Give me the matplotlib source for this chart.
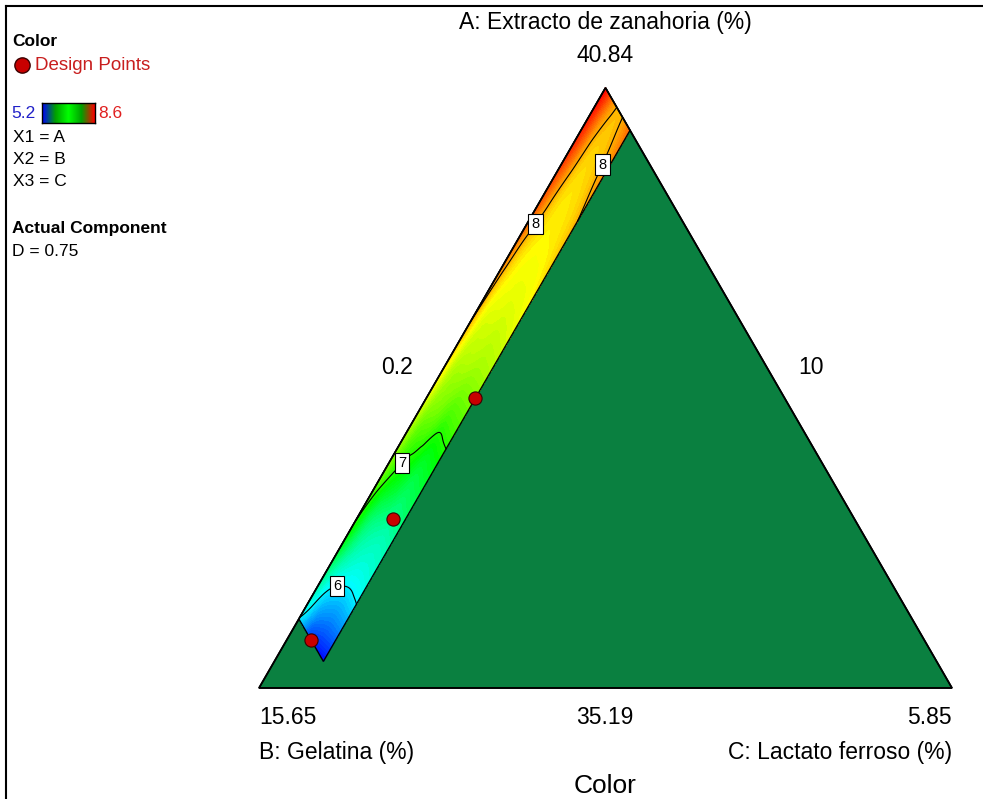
import numpy as np
import matplotlib
matplotlib.use("Agg")
import matplotlib.pyplot as plt
import matplotlib.tri as mtri
from matplotlib.colors import LinearSegmentedColormap
from matplotlib.lines import Line2D
from matplotlib.patches import Polygon

plt.rcParams['font.family'] = ['Liberation Sans', 'DejaVu Sans']

# component ranges (actual units), D fixed at 0.75
a_lo, a_hi = 35.19, 40.84
b_lo, b_hi = 10.0, 15.65
c_lo, c_hi = 0.2, 5.85
rng = 5.65

# feasible region limits
b_max = 15.0
c_max = 0.6

# response: rows = B level, cols = C level
B_rows = [15.0, 14.5, 14.0, 13.5, 13.0, 12.5, 12.0, 11.5, 11.0, 10.5, 10.0]
C_cols = [0.2, 0.28, 0.36, 0.44, 0.52, 0.6]
Z = np.array([
    [5.98, 5.70, 5.40, 5.30, 5.25, 5.20],
    [6.55, 6.21, 6.04, 5.95, 5.93, 5.95],
    [7.05, 6.63, 6.41, 6.31, 6.27, 6.30],
    [7.33, 7.03, 6.85, 6.67, 6.62, 6.65],
    [7.60, 7.30, 7.20, 7.02, 6.98, 7.00],
    [7.88, 7.52, 7.45, 7.38, 7.35, 7.35],
    [8.07, 7.70, 7.63, 7.58, 7.58, 7.62],
    [8.21, 7.87, 7.74, 7.71, 7.72, 7.82],
    [8.34, 8.03, 7.83, 7.80, 7.84, 7.97],
    [8.47, 8.17, 7.92, 7.88, 7.95, 8.10],
    [8.60, 8.30, 8.04, 7.96, 8.08, 8.25],
])

# design points
pts_A = [35.64, 36.78, 37.92]
pts_B = [15.0, 13.76, 12.52]
pts_C = [0.40, 0.50, 0.60]

# contour label spots (B, C)
lab_B = [14.52, 13.42, 11.21, 10.40]
lab_C = [0.344, 0.316, 0.276, 0.512]

z_lo, z_hi = 5.2, 8.6


def to_xy(B, C):
    b = (np.asarray(B) - b_lo) / rng
    c = (np.asarray(C) - c_lo) / rng
    a = 1 - b - c
    return c + a / 2, a * np.sqrt(3) / 2


W, H = 983, 799
fig = plt.figure(figsize=(W / 100, H / 100), dpi=100)
ax = fig.add_axes([0, 0, 1, 1])
side = 693.0
ax.set_xlim(-259 / side, (W - 259) / side)
ax.set_ylim(-(H - 688) / side, 688 / side)
ax.axis('off')

# whole triangle = infeasible dark green
tri_pts = [(0, 0), (1, 0), (0.5, np.sqrt(3) / 2)]
ax.add_patch(Polygon(tri_pts, closed=True, facecolor='#0a8040',
                     edgecolor='k', lw=1.2, zorder=1))

# grid of the feasible strip
BB, CC = np.meshgrid(B_rows, C_cols, indexing='ij')
gx, gy = to_xy(BB.ravel(), CC.ravel())
nr, nc = len(B_rows), len(C_cols)
tris = []
for i in range(nr - 1):
    for j in range(nc - 1):
        k = i * nc + j
        tris.append([k, k + 1, k + nc])
        tris.append([k + 1, k + nc + 1, k + nc])
tri = mtri.Triangulation(gx, gy, tris)
refiner = mtri.UniformTriRefiner(tri)
tri_f, z_f = refiner.refine_field(Z.ravel(), subdiv=4)

cmap = LinearSegmentedColormap.from_list(
    'dx', ['#0000ff', '#00ffff', '#00ff00', '#ffff00', '#ff0000'])
ax.tricontourf(tri_f, z_f, levels=np.linspace(z_lo, z_hi, 80), cmap=cmap,
               extend='both', zorder=2)
cs = ax.tricontour(tri_f, z_f, levels=[6, 7, 8], colors='k',
                   linewidths=0.8, zorder=3)
lx, ly = to_xy(lab_B, lab_C)
labs = ax.clabel(cs, manual=list(zip(lx, ly)), inline=False, fmt='%d',
                 fontsize=10.5, colors='k')
for t in labs:
    t.set_rotation(0)
    t.set_bbox(dict(facecolor='white', edgecolor='k', lw=0.8, pad=2.2))
    t.set_zorder(6)

# strip outline
sx, sy = to_xy([b_max, b_lo, b_lo, b_max], [c_lo, c_lo, c_max, c_max])
ax.add_patch(Polygon(list(zip(sx, sy)), closed=True, fill=False,
                     edgecolor='k', lw=1.0, zorder=4))
ax.add_patch(Polygon(tri_pts, closed=True, fill=False,
                     edgecolor='k', lw=1.2, zorder=4))

px, py = to_xy(pts_B, pts_C)
ax.scatter(px, py, s=90, c='#c80000', edgecolors='#3a0000',
           linewidths=0.8, zorder=5)


def ft(x, y, s, **kw):
    fig.text(x / W, 1 - y / H, s, va='center', **kw)


# axis texts
big = 16.5
ft(605, 22, 'A: Extracto de zanahoria (%)', ha='center', fontsize=big)
ft(605, 55, '40.84', ha='center', fontsize=big)
ft(397, 367, '0.2', ha='center', fontsize=big)
ft(811, 367, '10', ha='center', fontsize=big)
ft(259, 718, '15.65', ha='left', fontsize=big)
ft(605, 718, '35.19', ha='center', fontsize=big)
ft(952, 718, '5.85', ha='right', fontsize=big)
ft(259, 752, 'B: Gelatina (%)', ha='left', fontsize=big)
ft(952, 752, 'C: Lactato ferroso (%)', ha='right', fontsize=big)
ft(605, 786, 'Color', ha='center', fontsize=19)

# legend block
sm = 12.5
ft(12, 42, 'Color', ha='left', fontsize=sm, fontweight='bold')
fig.add_artist(Line2D([22 / W], [1 - 65 / H], marker='o', markersize=11,
                      markerfacecolor='#c80000', markeredgecolor='#3a0000',
                      transform=fig.transFigure))
ft(35, 65, 'Design Points', ha='left', fontsize=13.5, color='#c81e1e')
ft(11, 114, '5.2', ha='left', fontsize=sm, color='#2020c8')
ft(98, 114, '8.6', ha='left', fontsize=sm, color='#e02020')
ft(13, 137, 'X1 = A', ha='left', fontsize=sm)
ft(13, 159, 'X2 = B', ha='left', fontsize=sm)
ft(13, 181, 'X3 = C', ha='left', fontsize=sm)
ft(12, 228, 'Actual Component', ha='left', fontsize=sm, fontweight='bold')
ft(12, 251, 'D = 0.75', ha='left', fontsize=sm)

cax = fig.add_axes([42 / W, 1 - 123 / H, 53 / W, 20 / H])
bar_cmap = LinearSegmentedColormap.from_list(
    'bar', ['#0000ff', '#00a000', '#00ff00', '#00a000', '#ff0000'])
cax.imshow(np.linspace(0, 1, 100)[None, :], aspect='auto', cmap=bar_cmap)
cax.set_xticks([])
cax.set_yticks([])
for sp in cax.spines.values():
    sp.set_linewidth(1.0)

# frame
fig.add_artist(Line2D([6 / W, 6 / W], [0, 1 - 6 / H], color='k', lw=1.5,
                      transform=fig.transFigure))
fig.add_artist(Line2D([6 / W, 1], [1 - 6 / H, 1 - 6 / H], color='k', lw=1.5,
                      transform=fig.transFigure))

fig.savefig('out.png', dpi=100)
